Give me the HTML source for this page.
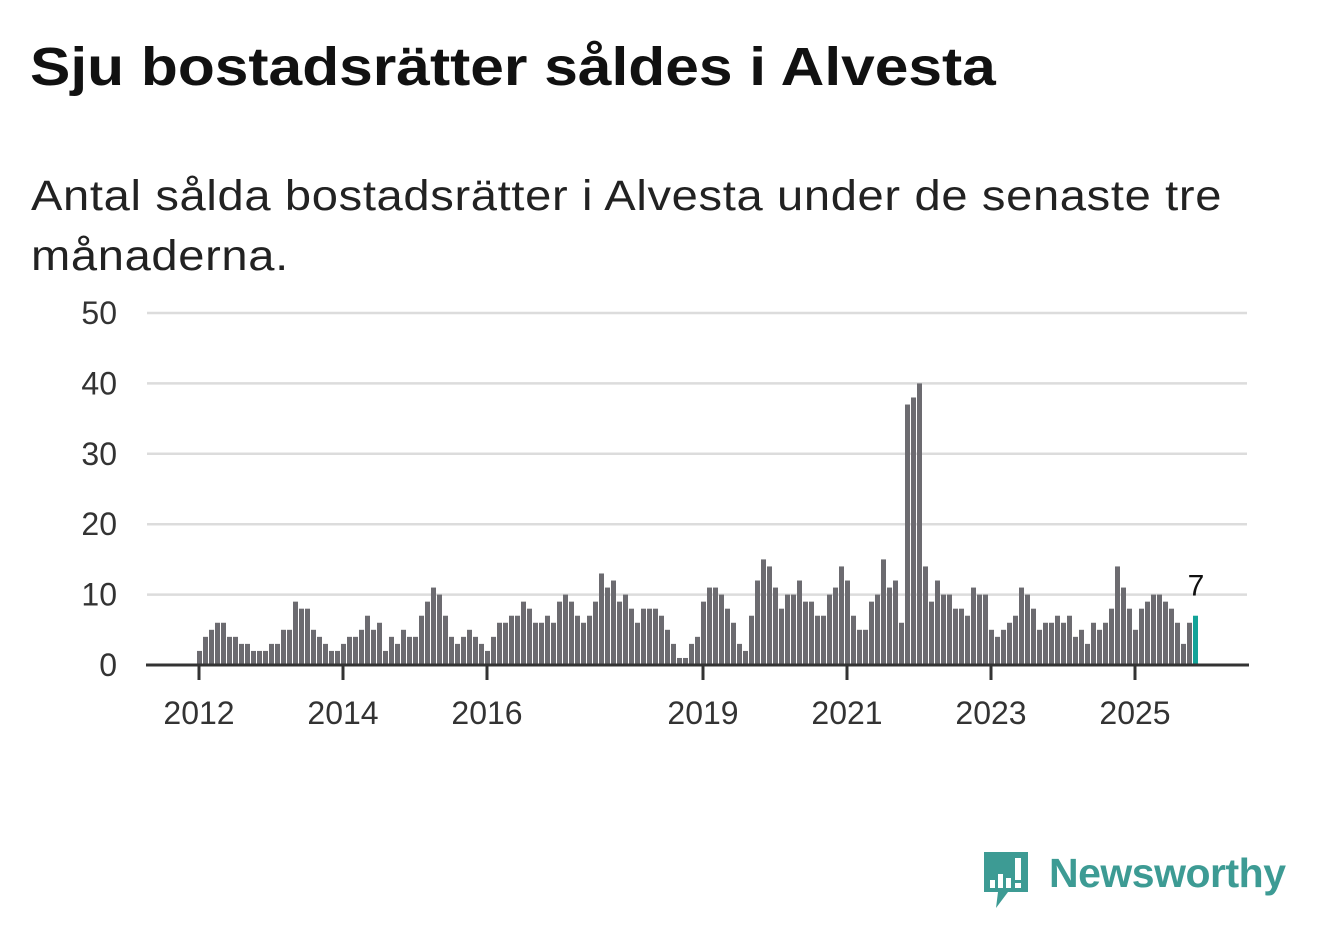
<!DOCTYPE html>
<html><head><meta charset="utf-8"><style>
body{margin:0;width:1322px;height:939px;background:#fff;overflow:hidden;font-family:"Liberation Sans","DejaVu Sans",sans-serif;}
#title{position:absolute;left:30px;top:36px;font-size:54px;font-weight:bold;color:#111;margin:0;white-space:nowrap;transform-origin:0 0;transform:scaleX(1.12);}
#sub{position:absolute;left:31px;top:166px;font-size:43px;color:#222;line-height:60px;width:1123px;letter-spacing:0.6px;transform-origin:0 0;transform:scaleX(1.095);}
svg{position:absolute;left:0;top:0;}
</style></head><body>
<h1 id="title">Sju bostadsrätter såldes i Alvesta</h1>
<div id="sub">Antal sålda bostadsrätter i Alvesta under de senaste tre månaderna.</div>
<svg id="chart" width="1322" height="939"></svg>
<div style="position:absolute;left:982px;top:850px;width:310px;height:60px;">
<svg width="50" height="60" style="left:0;top:0">
<path d="M2 2 H46 V42 H26 L14 58 L16 42 H2 Z" fill="#3d9b94"/>
<rect x="8" y="30" width="5" height="8" fill="#fff"/><rect x="16" y="24" width="5" height="14" fill="#fff"/><rect x="24" y="28" width="5" height="10" fill="#fff"/><rect x="33" y="8" width="6" height="22" fill="#fff"/><rect x="33" y="33" width="6" height="5" fill="#fff"/>
</svg>
<div style="position:absolute;left:67px;top:0px;font-size:41px;color:#3d9b94;font-weight:bold;letter-spacing:-0.5px;">Newsworthy</div>
</div>
<script>
const values=[2,4,5,6,6,4,4,3,3,2,2,2,3,3,5,5,9,8,8,5,4,3,2,2,3,4,4,5,7,5,6,2,4,3,5,4,4,7,9,11,10,7,4,3,4,5,4,3,2,4,6,6,7,7,9,8,6,6,7,6,9,10,9,7,6,7,9,13,11,12,9,10,8,6,8,8,8,7,5,3,1,1,3,4,9,11,11,10,8,6,3,2,7,12,15,14,11,8,10,10,12,9,9,7,7,10,11,14,12,7,5,5,9,10,15,11,12,6,37,38,40,14,9,12,10,10,8,8,7,11,10,10,5,4,5,6,7,11,10,8,5,6,6,7,6,7,4,5,3,6,5,6,8,14,11,8,5,8,9,10,10,9,8,6,3,6,7];
const startYear=2012;
const yTicks=[0,10,20,30,40,50];
const xTickYears=[2012,2014,2016,2019,2021,2023,2025];
const NS="http://www.w3.org/2000/svg";
const svg=document.getElementById('chart');
const y=v=>665-v*(352/50);
const x=m=>199+m*6;
function el(t,a){const e=document.createElementNS(NS,t);for(const k in a)e.setAttribute(k,a[k]);svg.appendChild(e);return e;}
yTicks.forEach(t=>{
  if(t>0){const g=el('line',{x1:147,x2:1247,y1:y(t),y2:y(t),stroke:'#dcdcdc','stroke-width':2.5});
  
  }
  const l=el('text',{x:117,y:y(t)+11,'text-anchor':'end','font-size':32,fill:'#333','font-family':'Liberation Sans, sans-serif'});
  l.textContent=t;
  
  
});
values.forEach((v,i)=>{
  const r=el('rect',{x:x(i)-2,y:y(v),width:5,height:665-y(v),fill:i===values.length-1?'#13a398':'#6c6b70'});
  
  
});
const ax=el('line',{x1:146,x2:1249,y1:665,y2:665,stroke:'#333','stroke-width':3});


xTickYears.forEach(yr=>{
  const px=x((yr-startYear)*12);
  const tk=el('line',{x1:px,x2:px,y1:665,y2:680,stroke:'#333','stroke-width':3});
  
  
  const t=el('text',{x:px,y:724,'text-anchor':'middle','font-size':32,fill:'#333','font-family':'Liberation Sans, sans-serif'});
  t.textContent=yr;
  
  
});
const li=values.length-1;
const vl=el('text',{x:x(li)+1,y:y(values[li])-20,'text-anchor':'middle','font-size':30,fill:'#111','font-family':'Liberation Sans, sans-serif'});
vl.textContent=values[li];


</script>
</body></html>
